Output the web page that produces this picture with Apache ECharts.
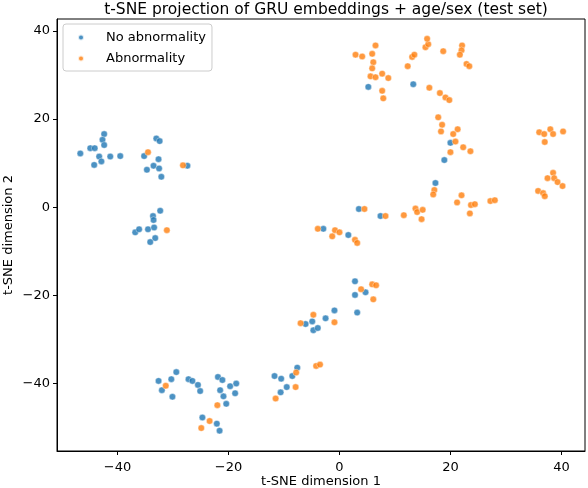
<!DOCTYPE html>
<html>
<head>
<meta charset="utf-8">
<script src="https://cdn.jsdelivr.net/npm/echarts@6/dist/echarts.min.js"></script>
<style>html,body{margin:0;padding:0;background:#fff}#c{width:588px;height:488px}</style>
</head>
<body>
<div id="c"></div>
<script>
const seriesNames = ['No abnormality', 'Abnormality'];
const xTicks = [-40, -20, 0, 20, 40];
const yTicks = [-40, -20, 0, 20, 40];

const noAbnormality = [
  [-46.7,12.2],[-44.9,13.4],[-44.1,13.4],[-42.4,16.6],[-42.7,15.3],[-42.4,14.1],[-43.3,11.5],[-42.9,10.4],
  [-44.2,9.6],[-41.3,11.5],[-39.5,11.6],[-35.2,11.6],[-33.0,15.6],[-32.4,15.0],[-32.6,10.9],[-33.5,9.4],
  [-34.7,8.5],[-32.5,8.8],[-32.1,6.9],[-27.4,9.4],
  [-32.3,-0.8],[-33.6,-2.0],[-33.5,-2.9],[-36.8,-5.7],[-36.1,-5.0],[-34.5,-5.0],[-33.4,-4.6],[-33.2,-7.0],[-34.1,-7.9],
  [-32.6,-39.4],[-32.0,-41.5],[-30.3,-39.0],[-29.4,-37.4],[-30.1,-43.0],[-27.2,-39.0],[-26.5,-39.4],[-25.5,-40.3],
  [-25.1,-41.7],[-21.9,-38.5],[-21.1,-39.2],[-21.5,-41.5],[-19.7,-40.6],[-18.6,-40.0],[-20.9,-42.9],[-18.8,-42.2],
  [-20.4,-44.6],[-24.7,-47.7],[-22.1,-49.1],[-21.6,-50.7],
  [-11.7,-38.3],[-10.5,-38.9],[-10.6,-42.0],[-9.5,-40.8],[-8.5,-38.3],[-7.6,-36.4],
  [-6.1,-26.5],[-4.9,-25.9],[-4.7,-27.9],[-3.9,-27.4],[-2.5,-25.2],[-0.9,-23.4],[3.2,-23.9],
  [2.8,-16.8],[4.7,-19.3],[2.8,-19.9],
  [-2.9,-4.9],[1.6,-6.3],[3.5,-0.4],[7.4,-2.0],[17.3,5.5],
  [20.0,14.6],[18.9,10.7],[5.2,27.3],[13.3,27.9]
];

const abnormality = [
  [-34.5,12.5],[-28.2,9.5],[-31.1,-5.2],
  [-31.3,-40.5],[-22.0,-44.9],[-23.4,-48.5],[-24.9,-50.1],
  [-11.5,-43.4],[-7.8,-37.5],[-7.9,-40.8],[-4.2,-36.0],[-3.5,-35.7],
  [-7.0,-26.3],[-0.9,-26.1],[-4.7,-24.4],
  [5.9,-17.5],[6.6,-17.7],[3.9,-18.6],[6.1,-20.9],
  [-3.9,-4.9],[-0.8,-5.2],[0.0,-5.7],[-1.3,-6.6],[2.8,-7.4],[3.2,-8.1],[4.5,-0.4],[8.3,-2.0],
  [11.6,-1.8],[13.7,-0.3],[14.0,-1.1],[15.0,-0.6],[14.8,-2.7],[17.1,3.9],[16.9,2.9],
  [22.0,2.7],[21.2,1.1],[23.7,0.5],[24.4,0.7],[23.5,-1.4],[27.2,1.4],[28.0,1.6],
  [36.0,17.0],[36.9,16.6],[38.0,17.7],[38.5,16.6],[40.3,17.2],[37.0,14.8],
  [38.5,7.8],[37.5,6.6],[38.7,6.6],[39.3,5.7],[40.2,4.8],[35.8,3.7],[36.7,3.2],[37.0,2.5],
  [17.8,20.4],[18.5,18.7],[18.3,17.2],[21.3,17.7],[20.5,16.6],[20.9,14.9],[22.3,13.6],[23.6,12.7],[20.0,12.5],
  [2.9,34.6],[4.1,34.2],[5.9,34.8],[6.5,36.7],[6.1,32.9],[5.9,31.5],[5.6,29.7],[6.5,29.5],[7.7,30.3],[8.8,29.3],
  [7.7,26.4],[7.9,24.7],[12.3,32.0],[13.1,34.1],[13.5,34.6],[15.5,36.3],[16.0,37.0],[15.8,38.2],[18.7,35.4],
  [22.1,36.7],[22.0,35.6],[21.7,34.6],[22.9,32.5],[23.4,32.0],
  [16.2,27.1],[18.1,25.9],[19.1,24.9],[19.8,24.3]
];

const FONT = 'DejaVu Sans';
const chart = echarts.init(document.getElementById('c'), null, {renderer: 'canvas'});

function axisCommon(name, isX) {
  return {
    type: 'value',
    name: name,
    nameLocation: 'middle',
    nameGap: isX ? 24 : 42,
    nameMoveOverlap: false,
    nameTextStyle: {fontFamily: FONT, fontSize: 13, color: '#000'},
    splitLine: {show: false},
    axisLine: {show: true, onZero: false, lineStyle: {color: '#000', width: 1}},
    axisTick: {show: true, inside: false, length: 4, lineStyle: {color: '#000', width: 1},
               customValues: isX ? xTicks : yTicks},
    axisLabel: {fontFamily: FONT, fontSize: 13, color: '#000', margin: isX ? 10 : 7,
                customValues: isX ? xTicks : yTicks,
                formatter: v => (v < 0 ? '\u2212' + Math.abs(v) : String(v))}
  };
}

const xAxis = Object.assign(axisCommon('t-SNE dimension 1', true), {min: -50.9, max: 44.25});
const yAxis = Object.assign(axisCommon('t-SNE dimension 2', false), {min: -55.3, max: 42.7});

const sym = {symbol: 'circle', symbolSize: 6.5};
chart.setOption({
  animation: false,
  backgroundColor: '#fff',
  title: {
    text: 't-SNE projection of GRU embeddings + age/sex (test set)',
    left: 321, top: -3, textAlign: 'center',
    textStyle: {fontFamily: FONT, fontSize: 15.5, fontWeight: 'normal', color: '#000'}
  },
  legend: {
    orient: 'vertical', left: 63, top: 24,
    data: seriesNames,
    icon: 'circle', itemWidth: 6, itemHeight: 6, itemGap: 8,
    padding: [7, 6, 6, 14],
    borderColor: '#cccccc', borderWidth: 1, borderRadius: 3, backgroundColor: 'rgba(255,255,255,0.8)',
    textStyle: {fontFamily: FONT, fontSize: 13, color: '#000', padding: [0, 0, 0, 17]}
  },
  grid: {left: 57, right: 3, top: 19, bottom: 37, show: true, borderColor: '#000', borderWidth: 1,
         outerBoundsMode: 'none', containLabel: false},
  xAxis: xAxis,
  yAxis: yAxis,
  series: [
    Object.assign({type: 'scatter', name: seriesNames[0], data: noAbnormality,
      itemStyle: {color: '#1f77b4', opacity: 0.8, borderColor: '#fff', borderWidth: 0.5}}, sym),
    Object.assign({type: 'scatter', name: seriesNames[1], data: abnormality,
      itemStyle: {color: '#ff7f0e', opacity: 0.8, borderColor: '#fff', borderWidth: 0.5}}, sym)
  ]
});
</script>
</body>
</html>
